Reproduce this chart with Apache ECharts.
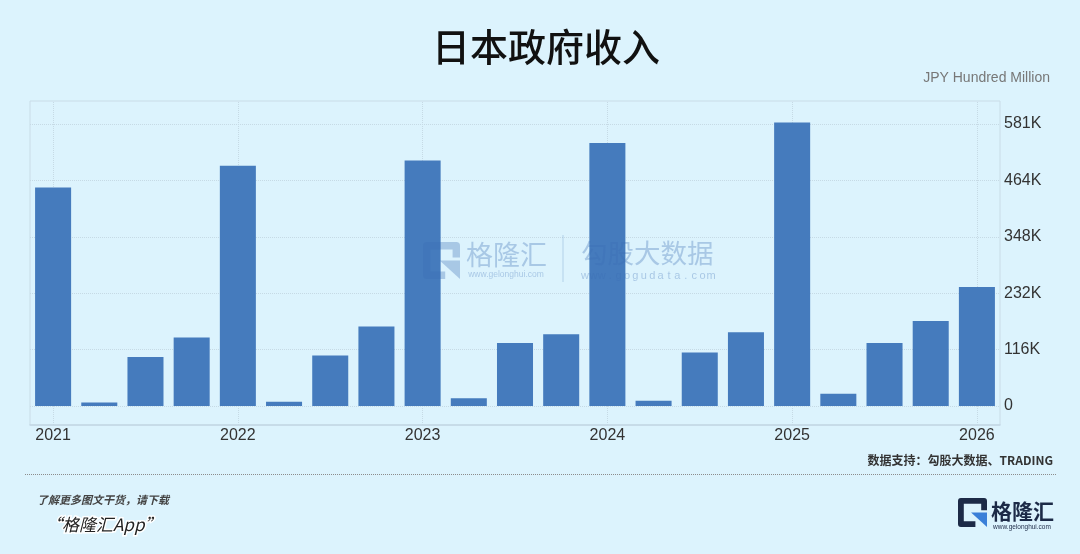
<!DOCTYPE html>
<html>
<head>
<meta charset="utf-8">
<script src="https://cdn.jsdelivr.net/npm/echarts@6/dist/echarts.min.js"></script>
<style>
html,body{margin:0;padding:0;background:#dcf3fd;}
#chart{width:1080px;height:554px;}
</style>
</head>
<body>
<div id="chart"></div>
<script>
// ---- data ----
const categories = ['2021Q1','2021Q2','2021Q3','2021Q4','2022Q1','2022Q2','2022Q3','2022Q4','2023Q1','2023Q2','2023Q3','2023Q4','2024Q1','2024Q2','2024Q3','2024Q4','2025Q1','2025Q2','2025Q3','2025Q4','2026Q1'];
const revenue = [450000, 7000, 101000, 141000, 495000, 9000, 104000, 164000, 506000, 16000, 130000, 148000, 542000, 11000, 110000, 152000, 584000, 25000, 130000, 175000, 245000];
const yearLabels = ['2021','2022','2023','2024','2025','2026'];
const yearCategories = ['2021Q1','2022Q1','2023Q1','2024Q1','2025Q1','2026Q1'];
const yTickLabels = ['0','116K','232K','348K','464K','581K'];
const yTickStep = 116200;
const yMax = 581000;

const chart = echarts.init(document.getElementById('chart'), null, {renderer:'canvas'});

function gIcon(x, y, w, navy, blue, zl){
  const lw = w*0.2;
  return {
    type:'group', x:x, y:y, zlevel:zl, silent:true,
    children:[
      {type:'polyline', zlevel:zl, shape:{points:[[w-lw/2,0.42*w],[w-lw/2,lw/2],[lw/2,lw/2],[lw/2,w-lw/2],[0.6*w,w-lw/2]]},
       style:{stroke:navy, lineWidth:lw, fill:null, lineJoin:'round'}},
      {type:'polygon', zlevel:zl, shape:{points:[[0.45*w,0.5*w],[w,0.5*w],[w,w]]},
       style:{fill:blue}}
    ]
  };
}

const wmColor = 'rgba(60,110,180,0.32)';
const domain2 = 'www.gogudata.com';
const domainChars = domain2.split('').map((c,i)=>({
  type:'text', zlevel:1, silent:true,
  style:{x:585+i*8.4, y:276, text:c, font:'11px "Liberation Sans", Arial, sans-serif', fill:wmColor, textAlign:'center', textVerticalAlign:'middle'}
}));

const option = {
  backgroundColor:'#dcf3fd',
  animation:false,
  grid:[
    {left:30, right:80, top:101, bottom:129, show:true, borderColor:'#c9dce7', borderWidth:1, backgroundColor:'transparent'},
    {left:30, right:80, top:124, bottom:148, show:false}
  ],
  xAxis:[
    {type:'category', gridIndex:0, data:categories, boundaryGap:true,
     axisLine:{show:true, lineStyle:{color:'#c3d7e5', width:1.5}},
     axisTick:{show:false},
     splitLine:{show:false},
     axisLabel:{show:true, interval:0, margin:3, color:'#333', fontSize:16, fontFamily:'"Liberation Sans", Arial, sans-serif',
       formatter:function(v, idx){ const k = yearCategories.indexOf(v); return k>=0 ? yearLabels[k] : ''; }}
    },
    {type:'category', gridIndex:1, data:categories, boundaryGap:true, show:false}
  ],
  yAxis:[
    {type:'value', gridIndex:0, min:0, max:1, show:false, splitLine:{show:false}},
    {type:'value', gridIndex:1, position:'right', min:0, max:yMax, interval:yTickStep,
     axisLine:{show:false}, axisTick:{show:false},
     splitLine:{show:true, lineStyle:{color:'#c6dae5', type:'dotted', width:1}},
     axisLabel:{margin:4, color:'#333', fontSize:16, fontFamily:'"Liberation Sans", Arial, sans-serif',
       formatter:function(v){ const k = Math.round(v/yTickStep); return (Math.abs(v-k*yTickStep)<10 && k<yTickLabels.length) ? yTickLabels[k] : ''; }}
    }
  ],
  series:[
    {type:'line', xAxisIndex:0, yAxisIndex:0, data:[], silent:true, z:0,
     markLine:{silent:true, z:0, symbol:['none','none'], label:{show:false},
       lineStyle:{color:'#c6dae5', type:'dotted', width:1},
       data: yearCategories.map(c=>({xAxis:c}))}
    },
    {type:'bar', xAxisIndex:1, yAxisIndex:1, data:revenue, barWidth:'78%', clip:false, z:5,
     itemStyle:{color:'#457bbd'}}
  ],
  graphic:[
    {type:'text', silent:true, style:{x:546, y:47, text:'日本政府收入', font:'500 38px "Noto Sans CJK SC", sans-serif', fill:'#111', textAlign:'center', textVerticalAlign:'middle'}},
    {type:'text', silent:true, style:{x:1050, y:78, text:'JPY Hundred Million', font:'14px "Liberation Sans", Arial, sans-serif', fill:'#777', textAlign:'right', textVerticalAlign:'middle'}},
    {type:'text', silent:true, style:{x:1053, y:460, text:'数据支持：勾股大数据、TRADING', font:'bold 12px "Noto Sans CJK SC", sans-serif', fill:'#333', textAlign:'right', textVerticalAlign:'middle'}},
    {type:'line', silent:true, shape:{x1:25, y1:474.5, x2:1057, y2:474.5}, style:{stroke:'#8c8c8c', lineWidth:1, lineDash:[1,1]}},
    {type:'text', silent:true, style:{x:37, y:500, text:'了解更多图文干货，请下载', font:'italic bold 11px "Noto Sans CJK SC", sans-serif', fill:'#444', textAlign:'left', textVerticalAlign:'middle'}},
    {type:'text', silent:true, style:{x:45, y:525, text:'“格隆汇App”', font:'italic 17px "Noto Sans CJK SC", sans-serif', fill:'#222', stroke:'#ffffff', lineWidth:3, textAlign:'left', textVerticalAlign:'middle'}},
    // bottom-right logo
    gIcon(958, 498, 29, '#1c2a47', '#3a7fd8', 0),
    {type:'text', silent:true, style:{x:991, y:511, text:'格隆汇', font:'bold 21px "Noto Sans CJK SC", sans-serif', fill:'#1c2a47', textAlign:'left', textVerticalAlign:'middle'}},
    {type:'text', silent:true, style:{x:1022, y:527, text:'www.gelonghui.com', font:'6.5px "Liberation Sans", Arial, sans-serif', fill:'#1c2a47', textAlign:'center', textVerticalAlign:'middle'}},
    // watermark
    gIcon(423, 242, 37, wmColor, wmColor, 1),
    {type:'text', zlevel:1, silent:true, style:{x:466, y:255, text:'格隆汇', font:'27px "Noto Sans CJK SC", sans-serif', fill:wmColor, textAlign:'left', textVerticalAlign:'middle'}},
    {type:'text', zlevel:1, silent:true, style:{x:506, y:275, text:'www.gelonghui.com', font:'8.5px "Liberation Sans", Arial, sans-serif', fill:wmColor, textAlign:'center', textVerticalAlign:'middle'}},
    {type:'line', zlevel:1, silent:true, shape:{x1:563, y1:235, x2:563, y2:282}, style:{stroke:'rgba(60,110,180,0.25)', lineWidth:1}},
    {type:'text', zlevel:1, silent:true, style:{x:581, y:253, text:'勾股大数据', font:'26.5px "Noto Sans CJK SC", sans-serif', fill:wmColor, textAlign:'left', textVerticalAlign:'middle'}}
  ].concat(domainChars)
};
chart.setOption(option);
</script>
</body>
</html>
